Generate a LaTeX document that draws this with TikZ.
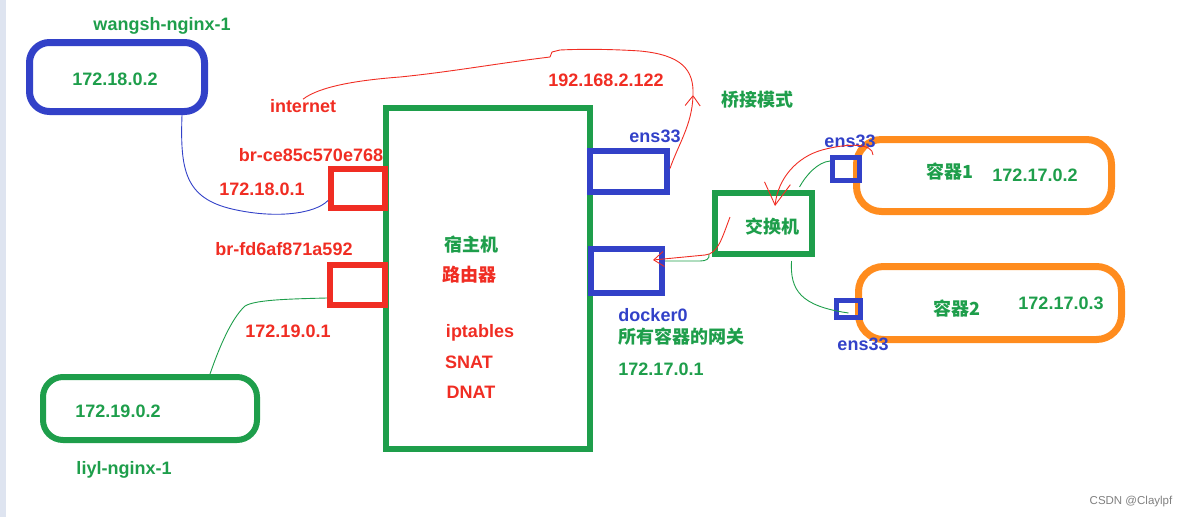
\documentclass[tikz,border=0pt]{standalone}
\usepackage{fontspec}
\setmainfont{Liberation Sans}
\newfontfamily\cjk{Noto Sans CJK SC}
\usepackage{xcolor}
\usepackage{tikz}
\usetikzlibrary{arrows.meta, positioning}

\definecolor{ngreen}{RGB}{30,158,75}
\definecolor{nred}{RGB}{240,45,35}
\definecolor{nblue}{RGB}{50,65,200}
\definecolor{norange}{RGB}{255,140,30}
\definecolor{nstrip}{RGB}{222,228,240}

\begin{document}
\begin{tikzpicture}[x=1pt, y=-1pt, >={Straight Barb[length=10pt,width=15pt]},
    greentext/.style={text=ngreen, font=\bfseries\fontsize{18}{21}\selectfont, inner sep=0pt},
    redtext/.style={greentext, text=nred},
    bluetext/.style={greentext, text=nblue},
    netbox/.style={rectangle, draw=#1, line width=6pt, inner sep=0pt},
    podbox/.style={netbox=#1, rounded corners=20pt, line width=7pt},
    wire/.style={draw=#1, line width=0.9pt}]
    \useasboundingbox (0,0) rectangle (1190,517);
    \fill[nstrip] (0,0) rectangle (6,517);

    % containers on the left
    \node (Wangsh) [podbox=nblue, minimum width=175pt, minimum height=69pt] at (117,77) {};
    \node (WangshIp) [greentext] at (115,79) {172.18.0.2};
    \node (WangshName) [greentext] at (162,26) {wangsh-nginx-1};
    \node (Liyl) [podbox=ngreen, line width=6pt, minimum width=214pt, minimum height=63pt] at (150,408.5) {};
    \node (LiylIp) [greentext] at (118,411) {172.19.0.2};
    \node (LiylName) [greentext] at (124,470) {liyl-nginx-1};

    % host with its bridges
    \node (Host) [netbox=ngreen, minimum width=204pt, minimum height=341pt] at (488,278.5) {};
    \node (BrCe) [netbox=nred, minimum width=54pt, minimum height=39pt] at (358,188.5) {};
    \node (BrFd) [netbox=nred, minimum width=55pt, minimum height=40pt] at (357.5,285) {};
    \node (EnsHost) [netbox=nblue, minimum width=77pt, minimum height=41pt] at (628.5,171.5) {};
    \node (Docker) [netbox=nblue, minimum width=71pt, minimum height=44pt] at (626.5,271) {};
    \node (BrCeName) [redtext] at (311,155) {br-ce85c570e768};
    \node (BrCeIp) [redtext] at (262,189) {172.18.0.1};
    \node (BrFdName) [redtext] at (284,249) {br-fd6af871a592};
    \node (BrFdIp) [redtext] at (288,331) {172.19.0.1};
    \node (HostName) [greentext] at (471,245) {\cjk 宿主机};
    \node (Router) [redtext] at (469,275) {\cjk 路由器};
    \node (Iptables) [redtext] at (480,333) {iptables};
    \node (Snat) [redtext] at (469,362) {SNAT};
    \node (Dnat) [redtext] at (471,392) {DNAT};
    \node (EnsHostName) [bluetext] at (655,136) {ens33};
    \node (DockerName) [bluetext] at (653,315) {docker0};
    \node (Gateway) [greentext] at (681,337) {\cjk 所有容器的网关};
    \node (GatewayIp) [greentext] at (661,369) {172.17.0.1};
    \node (Internet) [redtext] at (303,106) {internet};
    \node (PubIp) [redtext] at (606,80) {192.168.2.122};
    \node (Bridge) [greentext] at (757,100) {\cjk 桥接模式};

    % switch and containers on the right
    \node (Switch) [netbox=ngreen, minimum width=97pt, minimum height=61pt] at (763.5,223.5) {};
    \node (SwitchName) [greentext] at (772,227) {\cjk 交换机};
    \node (PodA) [podbox=norange, rounded corners=25pt, minimum width=255pt, minimum height=72pt] at (984,175.5) {};
    \node (PodB) [podbox=norange, rounded corners=25pt, minimum width=263pt, minimum height=73pt] at (990,303) {};
    \node (PortA) [netbox=nblue, line width=5pt, minimum width=27pt, minimum height=23pt] at (846,169) {};
    \node (PortB) [netbox=nblue, line width=5pt, minimum width=24pt, minimum height=17pt] at (848.5,309) {};
    \node (PodAName) [greentext] at (950,172) {\cjk 容器1};
    \node (PodAIp) [greentext] at (1035,175) {172.17.0.2};
    \node (PodBName) [greentext] at (957,309) {\cjk 容器2};
    \node (PodBIp) [greentext] at (1061,303) {172.17.0.3};
    \node (PortAName) [bluetext] at (850,141) {ens33};
    \node (PortBName) [bluetext] at (863,344) {ens33};

    \node (Mark) [text=black!50, font=\fontsize{11.5}{13}\selectfont, inner sep=0pt] at (1131,502) {CSDN @Claylpf};

    % links
    \draw[wire=nblue] ([xshift=65pt]Wangsh.south) .. controls (180,170) and (185,198) .. (232,209)
        .. controls (275,219) and (315,214) .. ([yshift=-12pt]BrCe.west);
    \draw[wire=ngreen] ([yshift=-13pt]BrFd.west) .. controls (285,299) and (255,300) .. (245,306)
        .. controls (232,318) and (220,345) .. ([xshift=60pt]Liyl.north);

    \coordinate (InetTip) at (693,95);
    \draw[wire=nred, ->] ([yshift=3pt]EnsHost.east) .. controls (678,145) and (692,125) .. (InetTip);
    \draw[wire=nred] (InetTip) .. controls (694,70) and (682,55) .. (640,51)
        .. controls (610,49) and (580,49) .. (560,50) -- (552,52) -- (550,57)
        .. controls (500,63) and (450,72) .. (400,77)
        .. controls (360,80) and (320,86) .. (Internet.north);

    \coordinate (SwIn) at (730,217);
    \draw[wire=nred, ->] (SwIn) .. controls (722,238) and (718,254) .. (705,255)
        -- ([xshift=-12pt,yshift=11pt]Docker.east);
    \draw[wire=ngreen] ([xshift=-3pt,yshift=3pt]Switch.south west) .. controls (710,259) and (706,261) .. (700,261)
        -- ([yshift=10pt]Docker.east);

    \coordinate (SwTop) at (775,206);
    \draw[wire=nred, -{Straight Barb[length=22pt,width=26pt]}] ([xshift=27pt,yshift=14pt]PortA.center)
        .. controls (873,143) and (848,143) .. (822,150)
        .. controls (797,157) and (778,178) .. (SwTop);
    \draw[wire=ngreen] ([xshift=36pt,yshift=3pt]Switch.north) .. controls (806,175) and (818,162) .. ([yshift=8pt]PortA.west);
    \draw[wire=ngreen] ([xshift=28pt,yshift=-4pt]Switch.south) .. controls (790,290) and (800,306) .. ([yshift=-4pt]PortB.center);
\end{tikzpicture}
\end{document}
